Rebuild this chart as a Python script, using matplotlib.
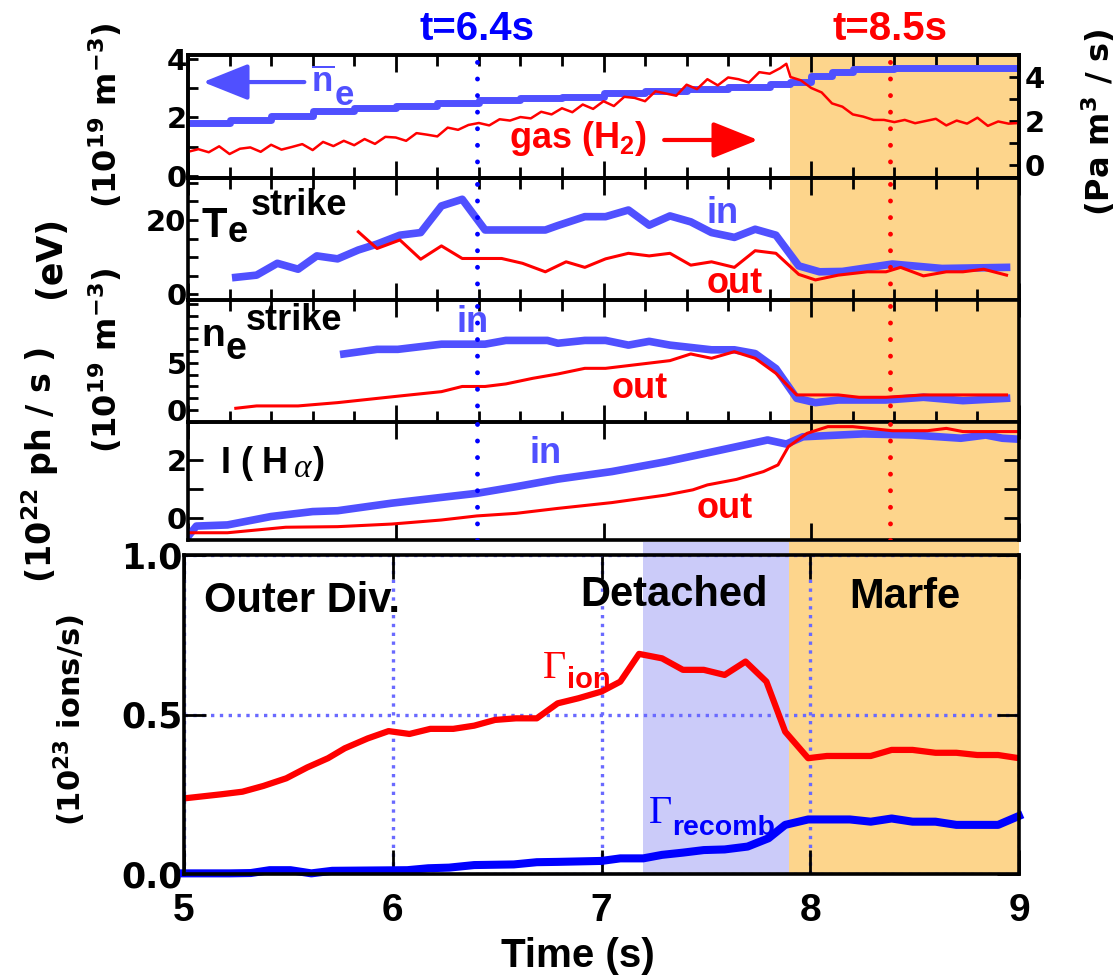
import matplotlib
matplotlib.use('Agg')
import matplotlib.pyplot as plt
from matplotlib.ticker import MultipleLocator, FixedLocator, NullLocator

plt.rcParams['font.family'] = ['DejaVu Sans']
plt.rcParams['font.weight'] = 'bold'
plt.rcParams['mathtext.fontset'] = 'custom'
plt.rcParams['mathtext.rm'] = 'Liberation Sans:bold'
plt.rcParams['mathtext.bf'] = 'Liberation Sans:bold'
plt.rcParams['mathtext.it'] = 'Liberation Sans:bold'
plt.rcParams['mathtext.default'] = 'bf'

# ---- data ----
# line-averaged density (left axis, 1e19 m^-3)
t_ne = [5.0, 5.2, 5.4, 5.6, 5.8, 6.0, 6.2, 6.4, 6.6, 6.8, 7.0, 7.2, 7.4, 7.6,
        7.8, 7.9, 8.0, 8.1, 8.2, 8.4, 8.6, 8.8, 9.0]
ne_avg = [1.80, 1.92, 2.05, 2.22, 2.30, 2.38, 2.48, 2.60, 2.64, 2.69, 2.84, 2.90,
          2.95, 3.02, 3.12, 3.20, 3.42, 3.55, 3.66, 3.67, 3.67, 3.67, 3.67]

# gas puff H2 (right axis, Pa m^3/s)
t_gas = [5.00, 5.05, 5.10, 5.15, 5.20, 5.25, 5.30, 5.35, 5.40, 5.45,
         5.50, 5.55, 5.60, 5.65, 5.70, 5.75, 5.80, 5.85, 5.90, 5.95,
         6.00, 6.05, 6.10, 6.15, 6.20, 6.25, 6.30, 6.35, 6.40, 6.45,
         6.50, 6.55, 6.60, 6.65, 6.70, 6.75, 6.80, 6.85, 6.90, 6.95,
         7.00, 7.05, 7.10, 7.15, 7.20, 7.25, 7.30, 7.35, 7.40, 7.45,
         7.50, 7.55, 7.60, 7.65, 7.70, 7.75, 7.80, 7.85, 7.88, 7.90,
         7.95, 8.00, 8.05, 8.10, 8.15, 8.20, 8.25, 8.30, 8.35, 8.40,
         8.45, 8.50, 8.55, 8.60, 8.65, 8.70, 8.75, 8.80, 8.85, 8.90,
         8.95, 9.00]
gas = [0.60, 0.72, 0.58, 0.85, 0.50, 0.74, 0.80, 0.60, 0.92, 0.70,
       0.82, 0.95, 0.68, 1.05, 0.86, 1.10, 0.90, 1.18, 0.96, 1.28,
       1.25, 1.10, 1.45, 1.38, 1.30, 1.70, 1.60, 1.82, 1.91, 1.80,
       2.08, 2.02, 2.18, 2.12, 2.42, 2.30, 2.58, 2.40, 2.75, 2.55,
       2.90, 2.68, 3.10, 3.05, 2.90, 3.35, 3.25, 3.15, 3.65, 3.45,
       3.90, 3.62, 3.98, 3.90, 3.75, 4.22, 4.15, 4.40, 4.60, 4.00,
       3.85, 3.50, 3.30, 2.80, 2.65, 2.30, 2.20, 2.05, 2.05, 1.95,
       2.05, 1.90, 2.00, 2.10, 1.80, 2.02, 1.88, 2.15, 1.78, 1.98,
       1.88, 1.91]

# Te at strike points (eV)
t_te_in = [5.23, 5.33, 5.43, 5.53, 5.62, 5.72, 5.82, 5.91, 6.02, 6.12, 6.22, 6.32,
           6.43, 6.72, 6.78, 6.91, 7.01, 7.12, 7.22, 7.32, 7.42, 7.52, 7.63, 7.73,
           7.83, 7.94, 8.04, 8.15, 8.39, 8.63, 8.94]
te_in = [4.5, 5.1, 8.3, 6.7, 10.3, 9.5, 11.9, 13.5, 15.9, 16.6, 23.8, 25.6,
         17.3, 17.3, 18.5, 20.9, 20.9, 22.7, 18.6, 21.1, 19.5, 16.6, 15.3, 17.5,
         15.9, 7.6, 6.0, 6.1, 8.1, 6.9, 7.2]
t_te_out = [5.82, 5.91, 6.02, 6.12, 6.22, 6.32, 6.51, 6.61, 6.72, 6.82, 6.91, 7.01,
            7.12, 7.22, 7.32, 7.42, 7.52, 7.63, 7.73, 7.83, 7.94, 8.02, 8.13, 8.27,
            8.36, 8.43, 8.54, 8.65, 8.73, 8.83, 8.94]
te_out = [16.8, 12.3, 14.6, 9.4, 13.0, 9.6, 9.6, 8.3, 6.0, 8.7, 7.2, 9.5,
          11.0, 10.3, 11.0, 7.8, 8.7, 7.2, 11.7, 11.0, 5.3, 3.8, 5.1, 6.0,
          6.0, 7.2, 4.9, 6.0, 6.0, 6.7, 5.1]

# ne at strike points (1e19 m^-3)
t_ns_in = [5.75, 5.91, 6.01, 6.22, 6.43, 6.53, 6.73, 6.78, 6.91, 7.01, 7.12, 7.22,
           7.32, 7.52, 7.63, 7.73, 7.83, 7.93, 8.02, 8.13, 8.36, 8.54, 8.73, 8.94]
ns_in = [5.96, 6.45, 6.45, 7.0, 7.0, 7.4, 7.4, 7.1, 7.4, 7.4, 6.9, 7.3,
         6.9, 6.4, 6.4, 6.0, 4.4, 1.24, 0.78, 1.06, 1.06, 1.35, 0.99, 1.24]
t_ns_out = [5.23, 5.33, 5.53, 5.72, 6.02, 6.22, 6.32, 6.43, 6.53, 6.66, 6.78, 6.91,
            7.01, 7.32, 7.42, 7.52, 7.63, 7.73, 7.83, 7.93, 8.13, 8.23, 8.36, 8.54, 8.94]
ns_out = [0.18, 0.43, 0.43, 0.78, 1.49, 1.95, 2.5, 2.5, 2.77, 3.37, 3.83, 4.43,
          4.43, 5.25, 5.96, 5.5, 6.2, 5.5, 3.9, 1.6, 1.6, 1.35, 1.35, 1.6, 1.6]

# H-alpha intensity (1e22 ph/s)
t_ha_in = [5.0, 5.04, 5.19, 5.4, 5.6, 5.72, 5.98, 6.22, 6.39, 6.58, 6.78, 7.04,
           7.3, 7.55, 7.79, 7.88, 7.96, 8.25, 8.49, 8.72, 8.84, 8.92, 8.99]
ha_in = [-0.64, -0.28, -0.24, 0.05, 0.22, 0.25, 0.51, 0.71, 0.85, 1.08, 1.34, 1.6,
         1.94, 2.32, 2.69, 2.55, 2.8, 2.9, 2.86, 2.75, 2.86, 2.75, 2.72]
t_ha_out = [5.0, 5.19, 5.47, 5.72, 5.98, 6.22, 6.39, 6.58, 6.78, 7.04, 7.3, 7.43,
            7.5, 7.64, 7.77, 7.84, 7.89, 7.98, 8.08, 8.2, 8.39, 8.56, 8.65, 8.73, 8.99]
ha_out = [-0.51, -0.51, -0.32, -0.3, -0.21, -0.07, 0.07, 0.16, 0.33, 0.53, 0.79, 0.97,
          1.14, 1.33, 1.6, 1.83, 2.46, 2.92, 3.15, 3.15, 3.01, 3.01, 3.09, 2.98, 2.98]

# particle fluxes, outer divertor (1e23 ions/s)
t_ion = [5.0, 5.18, 5.28, 5.38, 5.49, 5.59, 5.69, 5.77, 5.88, 5.98, 6.08, 6.18,
         6.29, 6.39, 6.49, 6.59, 6.69, 6.79, 6.89, 7.0, 7.09, 7.18, 7.29, 7.39,
         7.49, 7.59, 7.69, 7.79, 7.88, 7.99, 8.08, 8.29, 8.39, 8.49, 8.6, 8.7,
         8.8, 8.9, 9.0]
g_ion = [0.237, 0.25, 0.258, 0.276, 0.30, 0.334, 0.363, 0.394, 0.425, 0.448, 0.439, 0.455,
         0.455, 0.465, 0.483, 0.488, 0.488, 0.535, 0.551, 0.572, 0.603, 0.69, 0.676, 0.64,
         0.64, 0.624, 0.666, 0.603, 0.446, 0.363, 0.37, 0.37, 0.389, 0.389, 0.38, 0.38,
         0.373, 0.373, 0.363]
t_rec = [5.0, 5.22, 5.32, 5.41, 5.51, 5.61, 5.71, 6.07, 6.17, 6.27, 6.39, 6.58,
         6.69, 6.79, 7.0, 7.09, 7.2, 7.29, 7.39, 7.49, 7.59, 7.7, 7.8, 7.88,
         7.99, 8.19, 8.29, 8.39, 8.49, 8.6, 8.7, 8.9, 9.0]
g_rec = [0.002, 0.002, 0.003, 0.012, 0.012, 0.002, 0.01, 0.012, 0.018, 0.02, 0.028, 0.03,
         0.037, 0.038, 0.041, 0.049, 0.049, 0.06, 0.067, 0.075, 0.077, 0.086, 0.112, 0.154,
         0.171, 0.171, 0.164, 0.174, 0.164, 0.164, 0.154, 0.154, 0.182]

t_mark_blue = 6.39
t_mark_red = 8.38
detached = (7.2, 7.9)
marfe = (7.9, 9.0)

LBLUE = '#5050ff'
BLUE = '#0000ff'
RED = '#ff0000'
ORANGE = '#fdd58c'
LAV = '#cbcbf9'
SANS = 'Liberation Sans'

W, H = 1115, 977
fig = plt.figure(figsize=(W / 100, H / 100), dpi=100)


def box(l, t, r, b):
    return [l / W, 1 - b / H, (r - l) / W, (b - t) / H]


ax1 = fig.add_axes(box(188, 55, 1019, 178))
ax2 = fig.add_axes(box(188, 178, 1019, 300))
ax3 = fig.add_axes(box(188, 300, 1019, 422))
ax4 = fig.add_axes(box(188, 422, 1019, 540))
ax5 = fig.add_axes(box(184, 555, 1019, 874))
tops = [ax1, ax2, ax3, ax4]

for ax in tops + [ax5]:
    ax.set_facecolor('none')
    ax.set_xlim(5, 9)
    for s in ax.spines.values():
        s.set_linewidth(2.6)

for ax in tops:
    ax.axvspan(*marfe, color=ORANGE, lw=0, zorder=0)
    ax.xaxis.set_major_locator(MultipleLocator(1))
    ax.xaxis.set_minor_locator(MultipleLocator(0.2))
    ax.tick_params(axis='x', which='both', direction='in', top=True, bottom=True,
                   labelbottom=False, width=2)
    ax.tick_params(axis='x', which='major', length=12)
    ax.tick_params(axis='x', which='minor', length=8)
    ax.tick_params(axis='y', which='both', direction='in', width=2, length=7,
                   labelsize=21, pad=1, right=False)
    ax.axvline(t_mark_blue, color=BLUE, lw=3.5, ls=(0, (0.01, 3.4)),
               dash_capstyle='round', zorder=4)
    ax.axvline(t_mark_red, color=RED, lw=3.5, ls=(0, (0.01, 3.4)),
               dash_capstyle='round', zorder=4)
ax4.xaxis.set_minor_locator(NullLocator())

# ---- panel 1: ne and gas ----
ax1.set_ylim(-0.07, 4.12)
ax1.yaxis.set_major_locator(FixedLocator([0, 2, 4]))
ax1.yaxis.set_minor_locator(FixedLocator([1, 3]))
ax1.plot(t_ne, ne_avg, color=LBLUE, lw=5, drawstyle='steps-post', zorder=2)
ax1r = ax1.twinx()
ax1r.set_ylim(-0.59, 5.0)
ax1r.yaxis.set_major_locator(FixedLocator([0, 2, 4]))
ax1r.yaxis.set_minor_locator(FixedLocator([1, 3]))
ax1r.tick_params(axis='y', which='both', direction='in', width=2, length=7,
                 labelsize=21, pad=4)
for s in ax1r.spines.values():
    s.set_linewidth(2.6)
ax1r.plot(t_gas, gas, color=RED, lw=1.8)

ax1.annotate('', xy=(0.018, 0.78), xytext=(0.14, 0.78), xycoords='axes fraction',
             arrowprops=dict(arrowstyle='-|>,head_length=1.0,head_width=0.4',
                             mutation_scale=28, lw=3, color=LBLUE,
                             shrinkA=0, shrinkB=0))
ax1.text(0.148, 0.70, r'$\overline{n}$', transform=ax1.transAxes, fontsize=25,
         color=LBLUE, va='baseline')
ax1.text(0.176, 0.59, 'e', transform=ax1.transAxes, fontsize=25, family=SANS,
         color=LBLUE, va='baseline')
ax1.text(0.386, 0.244, r'gas (H$_2$)', transform=ax1.transAxes, fontsize=26,
         family=SANS, color=RED, va='baseline')
ax1r.annotate('', xy=(0.686, 0.309), xytext=(0.573, 0.309), xycoords='axes fraction',
              arrowprops=dict(arrowstyle='-|>,head_length=1.0,head_width=0.4',
                              mutation_scale=28, lw=3, color=RED,
                              shrinkA=0, shrinkB=0))
xt = ax1.get_xaxis_transform()
ax1.text(t_mark_blue, 1.122, 't=6.4s', transform=xt, ha='center', va='baseline',
         fontsize=29, family=SANS, color=BLUE, clip_on=False)
ax1.text(t_mark_red, 1.122, 't=8.5s', transform=xt, ha='center', va='baseline',
         fontsize=29, family=SANS, color=RED, clip_on=False)

# ---- panel 2: Te strike ----
ax2.set_ylim(-1.62, 31.35)
ax2.yaxis.set_major_locator(FixedLocator([0, 20]))
ax2.yaxis.set_minor_locator(MultipleLocator(5))
ax2.plot(t_te_in, te_in, color=LBLUE, lw=5.5, zorder=2)
ax2.plot(t_te_out, te_out, color=RED, lw=2.2, zorder=2.1)
ax2.text(0.016, 0.516, 'T', transform=ax2.transAxes, fontsize=30, family=SANS,
         va='baseline')
ax2.text(0.048, 0.475, 'e', transform=ax2.transAxes, fontsize=26, family=SANS,
         va='baseline')
ax2.text(0.076, 0.697, 'strike', transform=ax2.transAxes, fontsize=26, family=SANS,
         va='baseline')
ax2.text(0.643, 0.631, 'in', transform=ax2.transAxes, fontsize=26, family=SANS,
         color=LBLUE, ha='center', va='baseline')
ax2.text(0.658, 0.057, 'out', transform=ax2.transAxes, fontsize=26, family=SANS,
         color=RED, ha='center', va='baseline')

# ---- panel 3: ne strike ----
ax3.set_ylim(-1.28, 11.7)
ax3.yaxis.set_major_locator(FixedLocator([0, 5]))
ax3.yaxis.set_minor_locator(MultipleLocator(1.25))
ax3.plot(t_ns_in, ns_in, color=LBLUE, lw=5.5, zorder=2)
ax3.plot(t_ns_out, ns_out, color=RED, lw=2.2, zorder=2.1)
ax3.text(0.016, 0.627, 'n', transform=ax3.transAxes, fontsize=28, family=SANS,
         va='baseline')
ax3.text(0.045, 0.52, 'e', transform=ax3.transAxes, fontsize=27, family=SANS,
         va='baseline')
ax3.text(0.070, 0.75, 'strike', transform=ax3.transAxes, fontsize=26, family=SANS,
         va='baseline')
ax3.text(0.343, 0.738, 'in', transform=ax3.transAxes, fontsize=26, family=SANS,
         color=LBLUE, ha='center', va='baseline')
ax3.text(0.544, 0.197, 'out', transform=ax3.transAxes, fontsize=26, family=SANS,
         color=RED, ha='center', va='baseline')

# ---- panel 4: H-alpha ----
ax4.set_ylim(-0.76, 3.31)
ax4.yaxis.set_major_locator(FixedLocator([0, 2]))
ax4.yaxis.set_minor_locator(FixedLocator([1]))
ax4.tick_params(axis='y', which='both', length=11, right=True)
ax4.plot(t_ha_in, ha_in, color=LBLUE, lw=5.5, zorder=2)
ax4.plot(t_ha_out, ha_out, color=RED, lw=2.2, zorder=2.1)
ax4.text(0.040, 0.568, 'I (', transform=ax4.transAxes, fontsize=26, family=SANS,
         va='baseline')
ax4.text(0.089, 0.568, 'H', transform=ax4.transAxes, fontsize=26, family=SANS,
         va='baseline')
ax4.text(0.128, 0.53, 'α', transform=ax4.transAxes, fontsize=24,
         family='Liberation Serif', style='italic', fontweight='normal', va='baseline')
ax4.text(0.150, 0.568, ')', transform=ax4.transAxes, fontsize=26, family=SANS,
         va='baseline')
ax4.text(0.43, 0.65, 'in', transform=ax4.transAxes, fontsize=26, family=SANS,
         color=LBLUE, ha='center', va='baseline')
ax4.text(0.646, 0.186, 'out', transform=ax4.transAxes, fontsize=26, family=SANS,
         color=RED, ha='center', va='baseline')

# ---- panel 5: fluxes ----
ax5.set_ylim(0, 1)
ax5.axvspan(*detached, ymin=0, ymax=1.04, color=LAV, lw=0, zorder=0, clip_on=False)
ax5.axvspan(*marfe, ymin=0, ymax=1.04, color=ORANGE, lw=0, zorder=0, clip_on=False)
ax5.set_xticks([5, 6, 7, 8, 9], ['5', '6', '7', '8', '9'], fontsize=28, family=SANS)
ax5.set_yticks([0, 0.5, 1.0], ['0.0', '0.5', '1.0'], fontsize=25)
ax5.tick_params(axis='x', direction='in', top=True, length=17, width=2, pad=14)
ax5.tick_params(axis='y', direction='in', right=True, length=16, width=2, pad=1)
ax5.grid(True, color='#6a6aff', ls=':', lw=2.4)
ax5.plot(t_ion, g_ion, color=RED, lw=4.5, zorder=2)
ax5.plot(t_rec, g_rec, color=BLUE, lw=5.8, zorder=2, clip_on=False)
ax5.text(5.096, 0.821, 'Outer Div.', fontsize=30, family=SANS, va='baseline')
ax5.text(6.90, 0.840, 'Detached', fontsize=30, family=SANS, va='baseline')
ax5.text(8.186, 0.834, 'Marfe', fontsize=30, family=SANS, va='baseline')
ax5.text(6.72, 0.614, 'Γ', fontsize=29, family='Liberation Serif', fontweight='normal',
         color=RED, va='baseline', zorder=1.9)
ax5.text(6.835, 0.583, 'ion', fontsize=21, family=SANS, color=RED, va='baseline',
         zorder=1.9)
ax5.text(7.225, 0.16, 'Γ', fontsize=29, family='Liberation Serif', fontweight='normal',
         color=BLUE, va='baseline', zorder=1.9)
ax5.text(7.34, 0.122, 'recomb', fontsize=20.5, family=SANS, color=BLUE, va='baseline',
         zorder=1.9)


# ---- axis titles ----
def fig_label(x, y, s, size, rot=90):
    fig.text(x / W, 1 - y / H, s, rotation=rot, ha='center', va='center',
             fontsize=size, math_fontfamily='dejavusans')


fig_label(105, 115, r'(10$^{19}$ m$^{-3}$)', 23)
fig_label(50, 257, '(eV)', 25)
fig_label(105, 360, r'(10$^{19}$ m$^{-3}$)', 23)
fig_label(40, 465, r'(10$^{22}$ ph / s )', 24)
fig_label(70, 720, r'(10$^{23}$ ions/s)', 22)
fig_label(1098, 122, r'(Pa m$^{3}$ / s)', 23)
fig.text(578 / W, 1 - 967 / H, 'Time (s)', ha='center', va='baseline', fontsize=29,
         family=SANS)

fig.savefig('out.png', dpi=100)
